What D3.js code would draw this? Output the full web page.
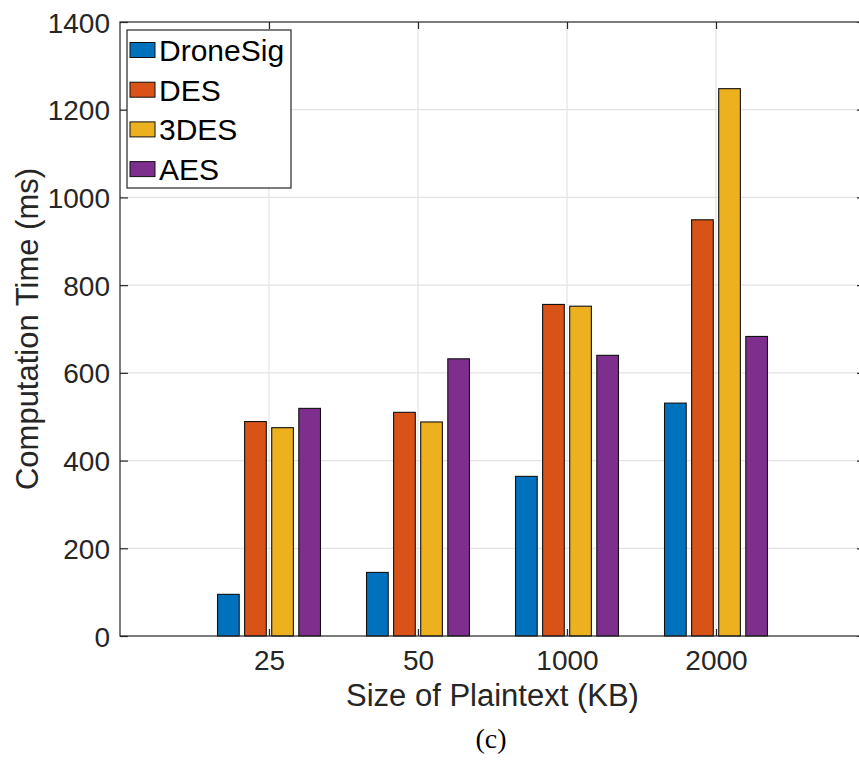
<!DOCTYPE html>
<html>
<head>
<meta charset="utf-8">
<script src="https://cdn.jsdelivr.net/npm/d3@7/dist/d3.min.js"></script>
<style>
  html, body { margin: 0; padding: 0; background: #fff; }
  svg { display: block; font-family: "Liberation Sans", Arial, Helvetica, sans-serif; }
</style>
</head>
<body>
<svg id="chart" width="859" height="760"></svg>
<script>
// Plaintext sizes (KB) on the x axis
const categories = ["25", "50", "1000", "2000"];
// Schemes compared
const seriesNames = ["DroneSig", "DES", "3DES", "AES"];
// Computation time (ms) per scheme, one value per plaintext size
const droneSig = [95, 145, 364, 531];
const des      = [489, 510, 756, 949];
const tdes     = [475, 488, 752, 1248];
const aes      = [519, 632, 640, 683];
const seriesValues = [droneSig, des, tdes, aes];
// Y-axis ticks
const yTicks = [0, 200, 400, 600, 800, 1000, 1200, 1400];

const colors = ["#0072BD", "#D95319", "#EDB120", "#7E2F8E"];
const axisColor = "#262626";
const gridColor = "#e3e3e3";

const svg = d3.select("#chart");
const plotLeft = 120, plotRight = 865, plotTop = 22, plotBottom = 636;

// Category k sits at x = k+1 on a [0, 5] axis
const x = d3.scaleLinear().domain([0, categories.length + 1]).range([plotLeft, plotRight]);
const y = d3.scaleLinear().domain([0, 1400]).range([plotBottom, plotTop]);

// Grouped-bar geometry (in x units)
const nS = seriesNames.length;
const groupWidth = Math.min(0.8, nS / (nS + 1.5));
const slot = groupWidth / nS;
const barW = slot * 0.8;

const plot = svg.append("g");

// Grid
plot.append("g").selectAll("line").data(yTicks.slice(1, -1)).join("line")
  .attr("x1", plotLeft).attr("x2", plotRight)
  .attr("y1", d => y(d)).attr("y2", d => y(d))
  .attr("stroke", gridColor).attr("stroke-width", 1.2);
plot.append("g").selectAll("line").data(categories).join("line")
  .attr("x1", (d, i) => x(i + 1)).attr("x2", (d, i) => x(i + 1))
  .attr("y1", plotTop).attr("y2", plotBottom)
  .attr("stroke", gridColor).attr("stroke-width", 1.2);

// Bars
seriesValues.forEach((vals, s) => {
  plot.append("g").selectAll("rect").data(vals).join("rect")
    .attr("x", (d, i) => x(i + 1 + (s - (nS - 1) / 2) * slot - barW / 2))
    .attr("width", x(barW) - x(0))
    .attr("y", d => y(d))
    .attr("height", d => y(0) - y(d))
    .attr("fill", colors[s])
    .attr("stroke", "#111")
    .attr("stroke-width", 1.1);
});

// Axes (box with inward ticks)
svg.append("rect")
  .attr("x", plotLeft).attr("y", plotTop)
  .attr("width", plotRight - plotLeft).attr("height", plotBottom - plotTop)
  .attr("fill", "none").attr("stroke", axisColor).attr("stroke-width", 1.2);

const yAxisL = d3.axisLeft(y).tickValues(yTicks).tickFormat(d3.format("d"))
  .tickSizeInner(-8).tickSizeOuter(0).tickPadding(10);
const gy = svg.append("g").attr("transform", `translate(${plotLeft},0)`).call(yAxisL);
gy.select(".domain").remove();
gy.selectAll(".tick line").attr("stroke", axisColor).attr("stroke-width", 1.2);
gy.selectAll(".tick text").attr("fill", axisColor).style("font-size", "28px")
  .style("font-family", "'Liberation Sans', Arial, sans-serif").attr("dy", "0.36em");

const yAxisR = d3.axisRight(y).tickValues(yTicks).tickSizeInner(-8).tickSizeOuter(0).tickFormat("");
const gyr = svg.append("g").attr("transform", `translate(${plotRight},0)`).call(yAxisR);
gyr.select(".domain").remove();
gyr.selectAll(".tick line").attr("stroke", axisColor).attr("stroke-width", 1.2);

const xAxisB = d3.axisBottom(x).tickValues(categories.map((c, i) => i + 1))
  .tickFormat((d, i) => categories[i]).tickSizeInner(-7).tickSizeOuter(0).tickPadding(14);
const gx = svg.append("g").attr("transform", `translate(0,${plotBottom})`).call(xAxisB);
gx.select(".domain").remove();
gx.selectAll(".tick line").attr("stroke", axisColor).attr("stroke-width", 1.2);
gx.selectAll(".tick text").attr("fill", axisColor).style("font-size", "28px")
  .style("font-family", "'Liberation Sans', Arial, sans-serif");

const xAxisT = d3.axisTop(x).tickValues(categories.map((c, i) => i + 1))
  .tickFormat("").tickSizeInner(-7).tickSizeOuter(0);
const gxt = svg.append("g").attr("transform", `translate(0,${plotTop})`).call(xAxisT);
gxt.select(".domain").remove();
gxt.selectAll(".tick line").attr("stroke", axisColor).attr("stroke-width", 1.2);

// Axis titles
svg.append("text")
  .attr("x", (plotLeft + plotRight) / 2).attr("y", 706)
  .attr("text-anchor", "middle").attr("fill", axisColor)
  .style("font-size", "31px")
  .text("Size of Plaintext (KB)");

svg.append("text")
  .attr("transform", `translate(38,${(plotTop + plotBottom) / 2}) rotate(-90)`)
  .attr("text-anchor", "middle").attr("fill", axisColor)
  .style("font-size", "31px")
  .text("Computation Time (ms)");

// Panel caption
svg.append("text")
  .attr("x", 491).attr("y", 748)
  .attr("text-anchor", "middle").attr("fill", "#000")
  .style("font-family", "'Liberation Serif', 'Times New Roman', serif")
  .style("font-size", "28px")
  .text("(c)");

// Legend
const lg = svg.append("g").attr("transform", "translate(127,30)");
lg.append("rect").attr("width", 164).attr("height", 158)
  .attr("fill", "#fff").attr("stroke", axisColor).attr("stroke-width", 1.2);
seriesNames.forEach((name, i) => {
  const cy = 20 + i * 39.7;
  lg.append("rect").attr("x", 3).attr("y", cy - 7.5).attr("width", 25).attr("height", 15)
    .attr("fill", colors[i]).attr("stroke", "#111").attr("stroke-width", 1);
  lg.append("text").attr("x", 32).attr("y", cy + 11)
    .attr("fill", "#000").style("font-size", "30px").text(name);
});
</script>
</body>
</html>
